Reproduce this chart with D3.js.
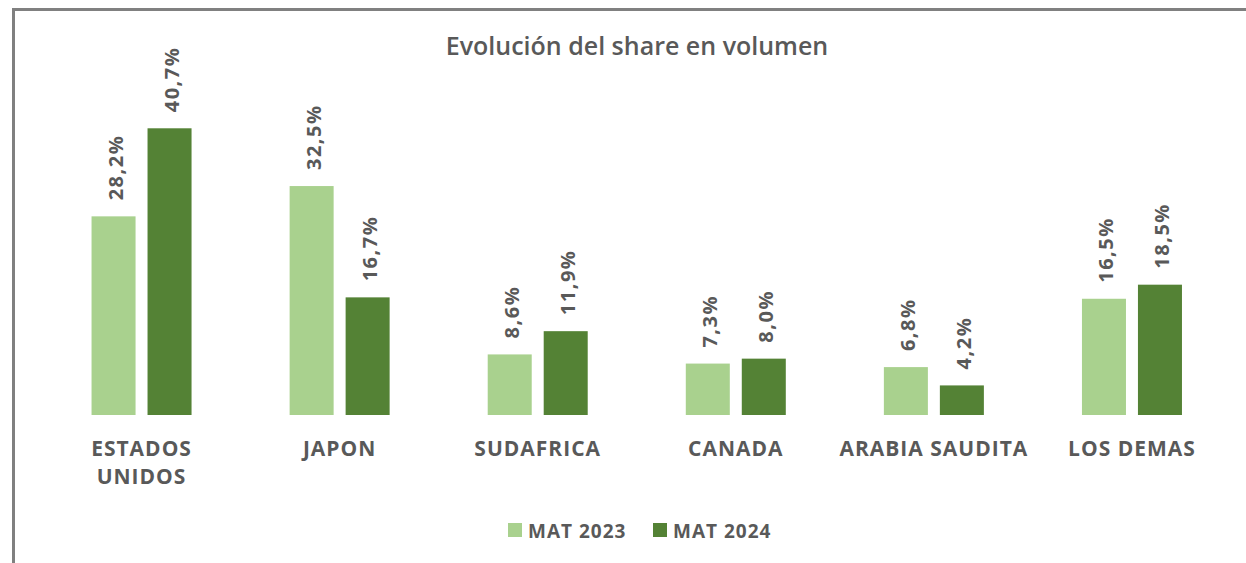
<!DOCTYPE html>
<html>
<head>
<meta charset="utf-8">
<script src="https://cdn.jsdelivr.net/npm/d3@7"></script>
<style>
  body { margin: 0; background: #fff; }
  text { font-family: "Open Sans", sans-serif; fill: #595959; font-weight: 700; }
</style>
</head>
<body>
<div id="chart"></div>
<script>
var categories = ["ESTADOS UNIDOS", "JAPON", "SUDAFRICA", "CANADA", "ARABIA SAUDITA", "LOS DEMAS"];
var series = ["MAT 2023", "MAT 2024"];
var mat2023 = [28.2, 32.5, 8.6, 7.3, 6.8, 16.5];
var mat2024 = [40.7, 16.7, 11.9, 8.0, 4.2, 18.5];
var colors = ["#a9d18e", "#548235"];

var width = 1246, height = 563;

var svg = d3.select("#chart").append("svg")
  .attr("width", width)
  .attr("height", height);

// outer frame, runs off the right and bottom of the picture
svg.append("rect")
  .attr("x", 13.5).attr("y", 9.5)
  .attr("width", width).attr("height", height)
  .attr("fill", "none").attr("stroke", "#808080").attr("stroke-width", 3);

svg.append("text")
  .attr("x", 637).attr("y", 55)
  .attr("text-anchor", "middle")
  .style("font-size", "25px").style("font-weight", 600)
  .text("Evolución del share en volumen");

var x0 = d3.scaleBand().domain(categories).range([42.5, 1231]).paddingInner(0).paddingOuter(0);
var x1 = d3.scaleBand().domain(series).range([0, 100]).paddingInner(0.214);
var y = d3.scaleLinear().domain([0, 45]).range([415, 98]);

var rows = categories.map(function(c, i) {
  return { cat: c, vals: [mat2023[i], mat2024[i]] };
});

var groups = svg.selectAll("g.grp").data(rows).enter().append("g")
  .attr("class", "grp")
  .attr("transform", function(d) { return "translate(" + (x0(d.cat) + x0.bandwidth() / 2 - 50) + ",0)"; });

groups.selectAll("rect").data(function(d) { return d.vals; }).enter().append("rect")
  .attr("x", function(d, i) { return x1(series[i]); })
  .attr("width", x1.bandwidth())
  .attr("y", function(d) { return y(d); })
  .attr("height", function(d) { return y(0) - y(d); })
  .attr("fill", function(d, i) { return colors[i]; });

var fmt = function(v) { return v.toFixed(1).replace(".", ",") + "%"; };

groups.selectAll("text.val").data(function(d) { return d.vals; }).enter().append("text")
  .attr("class", "val")
  .attr("transform", function(d, i) {
    return "translate(" + (x1(series[i]) + x1.bandwidth() / 2 + 9) + "," + (y(d) - 16) + ") rotate(-90)";
  })
  .style("font-size", "20px").style("letter-spacing", "1.5px")
  .text(fmt);

// category labels, split on the space for the two-word ones that wrap
groups.append("text")
  .attr("class", "cat")
  .attr("x", 50).attr("y", 456)
  .attr("text-anchor", "middle")
  .style("font-size", "21px").style("letter-spacing", "1px")
  .each(function(d) {
    var t = d3.select(this);
    var lines = d.cat === "ESTADOS UNIDOS" ? ["ESTADOS", "UNIDOS"] : [d.cat];
    lines.forEach(function(l, k) {
      t.append("tspan").attr("x", 50).attr("dy", k ? 28 : 0).text(l);
    });
  });

var legend = svg.append("g").attr("transform", "translate(508,523)");
var lx = [0, 145];
series.forEach(function(s, i) {
  legend.append("rect").attr("x", lx[i]).attr("y", 0).attr("width", 14).attr("height", 14).attr("fill", colors[i]);
  legend.append("text").attr("x", lx[i] + 20).attr("y", 14.5)
    .style("font-size", "19px").style("letter-spacing", "1px").text(s);
});
</script>
</body>
</html>
